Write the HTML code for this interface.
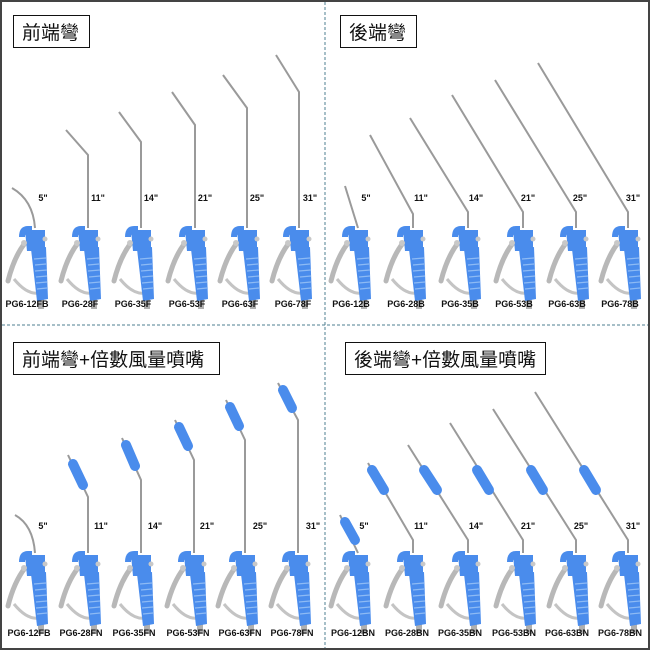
<!DOCTYPE html>
<html><head><meta charset="utf-8"><style>
html,body{margin:0;padding:0;background:#fff}
svg{display:block}
text{font-family:"Liberation Sans","Noto Sans CJK TC",sans-serif}
.lb{font-size:9px;font-weight:bold;fill:#111;text-anchor:middle}
.in{font-size:9px;font-weight:bold;fill:#111;text-anchor:middle}
.tt{font-size:19px;fill:#111}
.tb{stroke:#9a9a9a;stroke-width:2;fill:none}
.nz{stroke:#4a8cec;stroke-width:10;stroke-linecap:round}
</style></head><body>
<svg width="650" height="650" viewBox="0 0 650 650">
<defs>
<g id="gun">
<path d="M-10,16 Q-21,30 -27,54" stroke="#b8b8b8" stroke-width="5" fill="none" stroke-linecap="round"/>
<path d="M-21,52 Q-8,68 4,66" stroke="#c4c4c4" stroke-width="3" fill="none"/>
<rect x="3" y="72" width="6" height="10" fill="#b0b0b0"/>
<path d="M-4,22 L11,20 L13,72 L2,74 Z" fill="#4a8cec"/>
<g stroke="#8dbaf4" stroke-width="1.2"><line x1="-1" y1="32" x2="11" y2="31"/><line x1="0" y1="38" x2="11" y2="37"/><line x1="0" y1="44" x2="12" y2="43"/><line x1="1" y1="50" x2="12" y2="49"/><line x1="1" y1="56" x2="12" y2="55"/><line x1="2" y1="62" x2="12" y2="61"/></g>
<path d="M-10,3 L10,3 L10,24 L-8,24 Z" fill="#4a8cec"/>
<path d="M-16,10 Q-16,-1 -7,-1 L-3,-1 L-3,6 L-7,6 Q-10,6 -10,10 Z" fill="#4a8cec"/>
<circle cx="-11" cy="16" r="3" fill="#c8c8c8"/>
<circle cx="10" cy="12" r="2.5" fill="#c8c8c8"/>
</g>
</defs>
<rect x="1" y="1" width="648" height="648" fill="#fff" stroke="#444" stroke-width="2"/>
<line x1="325" y1="2" x2="325" y2="648" stroke="#4f7f90" stroke-width="1" stroke-dasharray="3,2"/>
<line x1="2" y1="325" x2="648" y2="325" stroke="#4f7f90" stroke-width="1" stroke-dasharray="3,2"/>

<rect x="13.5" y="15.5" width="76" height="32" fill="#fff" stroke="#111"/>
<text x="22" y="39" class="tt">前端彎</text>
<rect x="340.5" y="15.5" width="76" height="32" fill="#fff" stroke="#111"/>
<text x="349" y="39" class="tt">後端彎</text>
<rect x="13.5" y="342.5" width="206" height="32" fill="#fff" stroke="#111"/>
<text x="22" y="366" class="tt">前端彎+倍數風量噴嘴</text>
<rect x="345.5" y="342.5" width="200" height="32" fill="#fff" stroke="#111"/>
<text x="354" y="366" class="tt">後端彎+倍數風量噴嘴</text>

<path class="tb" d="M35,228 Q33,200 12,188"/>
<path class="tb" d="M88,228 V155 L66,130"/>
<path class="tb" d="M141,228 V142 L119,112"/>
<path class="tb" d="M195,228 V125 L172,92"/>
<path class="tb" d="M247,228 V108 L223,75"/>
<path class="tb" d="M299,228 V92 L276,55"/>
<path class="tb" d="M358,228 L345,186"/>
<path class="tb" d="M413,228 V214 L370,135"/>
<path class="tb" d="M468,228 V212 L410,118"/>
<path class="tb" d="M523,228 V212 L452,95"/>
<path class="tb" d="M576,228 V212 L495,80"/>
<path class="tb" d="M628,228 V212 L538,63"/>
<path class="tb" d="M35,553 Q33,525 15,515"/>
<path class="tb" d="M88,553 V497 L68,455"/>
<path class="tb" d="M141,553 V480 L122,438"/>
<path class="tb" d="M194,553 V460 L175,420"/>
<path class="tb" d="M245,553 V440 L226,400"/>
<path class="tb" d="M298,553 V420 L278,383"/>
<line class="nz" x1="83" y1="485" x2="73" y2="464"/>
<line class="nz" x1="135" y1="466" x2="126" y2="445"/>
<line class="nz" x1="188" y1="446" x2="179" y2="427"/>
<line class="nz" x1="239" y1="426" x2="230" y2="407"/>
<line class="nz" x1="292" y1="408" x2="283" y2="390"/>
<path class="tb" d="M358,553 L340,515"/>
<path class="tb" d="M413,553 V540 L368,463"/>
<path class="tb" d="M468,553 V540 L408,445"/>
<path class="tb" d="M523,553 V540 L450,423"/>
<path class="tb" d="M576,553 V540 L493,409"/>
<path class="tb" d="M628,553 V540 L535,392"/>
<line class="nz" x1="355" y1="540" x2="345" y2="522"/>
<line class="nz" x1="384" y1="490" x2="372" y2="470"/>
<line class="nz" x1="437" y1="490" x2="424" y2="470"/>
<line class="nz" x1="489" y1="490" x2="477" y2="470"/>
<line class="nz" x1="543" y1="490" x2="531" y2="470"/>
<line class="nz" x1="596" y1="490" x2="584" y2="470"/>

<use href="#gun" x="35" y="227"/><use href="#gun" x="88" y="227"/><use href="#gun" x="141" y="227"/><use href="#gun" x="195" y="227"/><use href="#gun" x="247" y="227"/><use href="#gun" x="299" y="227"/>
<use href="#gun" x="358" y="227"/><use href="#gun" x="413" y="227"/><use href="#gun" x="468" y="227"/><use href="#gun" x="523" y="227"/><use href="#gun" x="576" y="227"/><use href="#gun" x="628" y="227"/>
<use href="#gun" x="35" y="552"/><use href="#gun" x="88" y="552"/><use href="#gun" x="141" y="552"/><use href="#gun" x="194" y="552"/><use href="#gun" x="245" y="552"/><use href="#gun" x="298" y="552"/>
<use href="#gun" x="358" y="552"/><use href="#gun" x="413" y="552"/><use href="#gun" x="468" y="552"/><use href="#gun" x="523" y="552"/><use href="#gun" x="576" y="552"/><use href="#gun" x="628" y="552"/>

<g class="in">
<text x="43" y="201">5"</text><text x="98" y="201">11"</text><text x="151" y="201">14"</text><text x="205" y="201">21"</text><text x="257" y="201">25"</text><text x="310" y="201">31"</text>
<text x="366" y="201">5"</text><text x="421" y="201">11"</text><text x="476" y="201">14"</text><text x="528" y="201">21"</text><text x="580" y="201">25"</text><text x="633" y="201">31"</text>
<text x="43" y="529">5"</text><text x="101" y="529">11"</text><text x="155" y="529">14"</text><text x="207" y="529">21"</text><text x="260" y="529">25"</text><text x="313" y="529">31"</text>
<text x="364" y="529">5"</text><text x="421" y="529">11"</text><text x="476" y="529">14"</text><text x="528" y="529">21"</text><text x="581" y="529">25"</text><text x="633" y="529">31"</text>
</g>
<g class="lb">
<text x="27" y="307">PG6-12FB</text><text x="80" y="307">PG6-28F</text><text x="133" y="307">PG6-35F</text><text x="187" y="307">PG6-53F</text><text x="240" y="307">PG6-63F</text><text x="293" y="307">PG6-78F</text>
<text x="351" y="307">PG6-12B</text><text x="406" y="307">PG6-28B</text><text x="460" y="307">PG6-35B</text><text x="514" y="307">PG6-53B</text><text x="567" y="307">PG6-63B</text><text x="620" y="307">PG6-78B</text>
<text x="29" y="636">PG6-12FB</text><text x="81" y="636">PG6-28FN</text><text x="134" y="636">PG6-35FN</text><text x="188" y="636">PG6-53FN</text><text x="240" y="636">PG6-63FN</text><text x="292" y="636">PG6-78FN</text>
<text x="353" y="636">PG6-12BN</text><text x="407" y="636">PG6-28BN</text><text x="460" y="636">PG6-35BN</text><text x="514" y="636">PG6-53BN</text><text x="567" y="636">PG6-63BN</text><text x="620" y="636">PG6-78BN</text>
</g>
</svg>
</body></html>
